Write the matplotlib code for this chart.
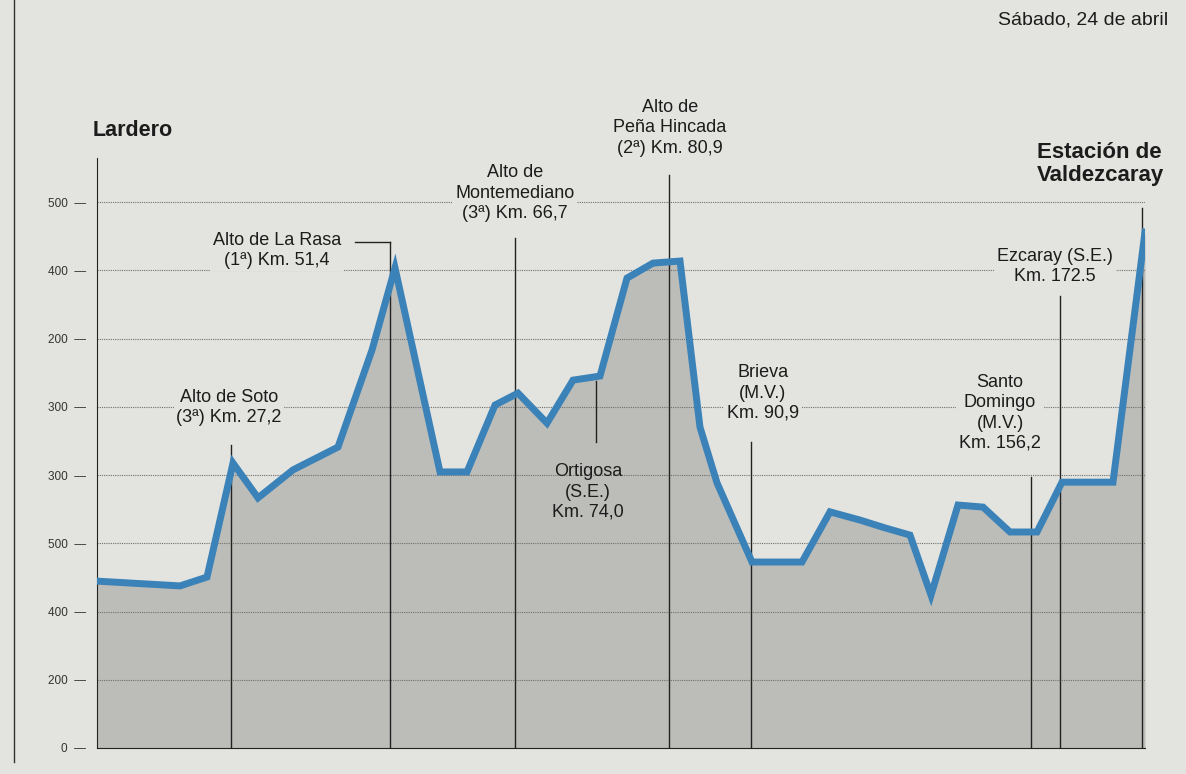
import matplotlib.pyplot as plt

# colores del papel escaneado
paper = "#e3e3df"
fill_col = "#bcbdb9"
blue = "#3a82b8"

plt.rcParams['font.family'] = ['Liberation Sans', 'DejaVu Sans']

# perfil: posicion en el dibujo (el grafico no va a escala de km) y altitud en metros
pos = [0, 83, 110, 136, 161, 196, 241, 275, 298, 343, 370, 398, 421, 450, 476, 503,
       530, 556, 583, 603, 620, 655, 705, 733, 763, 788, 813, 834, 861, 886, 913, 940,
       965, 1016, 1048]
alt = [489, 475, 501, 835, 733, 815, 882, 1166, 1407, 809, 809, 1005, 1040, 952, 1078, 1090,
       1377, 1421, 1427, 940, 777, 545, 545, 692, 668, 645, 624, 448, 712, 706, 633, 633,
       779, 779, 1512]

ytick_vals = [0, 200, 400, 600, 800, 1000, 1200, 1400, 1600]
ytick_labels = ["0", "200", "400", "500", "300", "300", "200", "400", "500"]

# puntos del recorrido: linea vertical (posicion, altura de arriba, altura de abajo)
mark_pos = [134, 293, 418, 499, 572, 654, 934, 963, 1045]
mark_top = [888, 1483, 1494, 1075, 1679, 897, 794, 1325, 1582]
mark_bot = [0, 0, 0, 897, 0, 0, 0, 0, 0]

# etiquetas: texto, x, y
labels = ["Alto de Soto\n(3ª) Km. 27,2",
          "Alto de La Rasa\n(1ª) Km. 51,4",
          "Alto de\nMontemediano\n(3ª) Km. 66,7",
          "Ortigosa\n(S.E.)\nKm. 74,0",
          "Alto de\nPeña Hincada\n(2ª) Km. 80,9",
          "Brieva\n(M.V.)\nKm. 90,9",
          "Santo\nDomingo\n(M.V.)\nKm. 156,2",
          "Ezcaray (S.E.)\nKm. 172.5"]
label_x = [132, 180, 418, 491, 573, 666, 903, 958]
label_y = [998, 1459, 1626, 750, 1817, 1040, 982, 1410]

fig = plt.figure(figsize=(11.86, 7.74), dpi=100, facecolor=paper)
ax = fig.add_axes([97 / 1186, 26 / 774, 1048 / 1186, 590 / 774])
ax.set_facecolor(paper)
ax.set_xlim(0, 1048)
ax.set_ylim(0, 1729)

ax.fill_between(pos, alt, 0, color=fill_col, lw=0, zorder=1)
ax.plot(pos, alt, color=blue, lw=5, solid_joinstyle='miter', zorder=5)

# lineas horizontales
for v in ytick_vals[1:]:
    ax.axhline(v, color="#6f6f6f", lw=0.8, ls=(0, (1, 1)), zorder=2)

for x, t, b in zip(mark_pos, mark_top, mark_bot):
    ax.plot([x, x], [b, t], color="#222222", lw=1, zorder=3)
# guia de La Rasa
ax.plot([258, 293], [1483, 1483], color="#222222", lw=1, zorder=3)

for i, (txt, x, y) in enumerate(zip(labels, label_x, label_y)):
    box = None
    if i != 3:
        box = dict(facecolor=paper, edgecolor='none', pad=2)
    ax.text(x, y, txt, ha='center', va='center', fontsize=13, color="#1c1c1c",
            linespacing=1.25, bbox=box, zorder=4)

ax.text(-4, 1811, "Lardero", ha='left', va='center', fontsize=15.5,
        fontweight='bold', color="#1c1c1c")
ax.text(940, 1711, "Estación de\nValdezcaray", ha='left', va='center', fontsize=16,
        fontweight='bold', color="#1c1c1c", linespacing=1.1)
ax.text(1071, 2133, "Sábado, 24 de abril", ha='right', va='center', fontsize=14,
        color="#1c1c1c")

ax.set_yticks(ytick_vals)
ax.set_yticklabels([l + "  —" for l in ytick_labels], fontsize=8.5, color="#333333")
ax.tick_params(axis='y', length=0, pad=8)
ax.set_xticks([])
for s in ['top', 'right']:
    ax.spines[s].set_visible(False)
ax.spines['left'].set_color("#222222")
ax.spines['bottom'].set_color("#222222")

# borde de la columna del periodico
fig.add_artist(plt.Line2D([14 / 1186, 14 / 1186], [12 / 774, 1], color="#333333", lw=1))

fig.savefig("out.png", dpi=100, facecolor=paper)
